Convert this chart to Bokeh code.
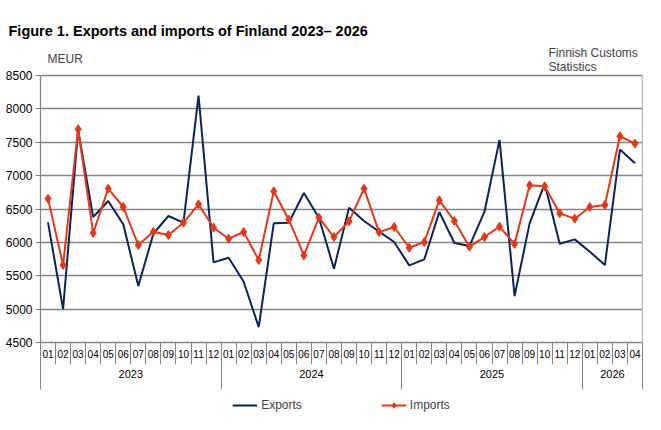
from bokeh.embed import file_html
from bokeh.layouts import column
from bokeh.models import (ColumnDataSource, FixedTicker, Label, Legend,
                          LegendItem, LinearAxis, Range1d)
from bokeh.plotting import figure
from bokeh.resources import INLINE

# Monthly foreign trade of Finland, million euros
years = ["2023"] * 12 + ["2024"] * 12 + ["2025"] * 12 + ["2026"] * 4
months = ["01", "02", "03", "04", "05", "06", "07", "08", "09", "10", "11", "12"] * 3 + ["01", "02", "03", "04"]

exports = [6300, 5000, 7680, 6380, 6620, 6270, 5345, 6130, 6395, 6295, 8200, 5700,
           5770, 5410, 4730, 6285, 6295, 6740, 6370, 5605, 6520, 6320, 6160, 6005,
           5655, 5745, 6455, 5990, 5945, 6460, 7535, 5195, 6285, 6880, 5980, 6045,
           5860, 5660, 7390, 7185]
imports = [6655, 5660, 7695, 6140, 6805, 6530, 5960, 6160, 6110, 6295, 6570, 6220,
           6055, 6155, 5735, 6765, 6340, 5805, 6370, 6080, 6315, 6805, 6150, 6230,
           5920, 6005, 6630, 6320, 5935, 6080, 6235, 5975, 6855, 6840, 6435, 6355,
           6530, 6560, 7590, 7480]

y_ticks = [4500, 5000, 5500, 6000, 6500, 7000, 7500, 8000, 8500]

FONT = "Liberation Sans"
GRID = "#858585"
EXP_COLOR = "#0d2257"
IMP_COLOR = "#e4381a"

# pixel layout of the chart
TOP = 44          # top of the drawing area (room for the unit and source notes)
VALUE_TOP = 75    # where the highest value tick sits
VALUE_H = 267     # height of the value area
BOTTOM_PAD = 50   # room for month and year labels
FOOT_H = 430 - (VALUE_TOP + VALUE_H + BOTTOM_PAD)

y_lo, y_hi = y_ticks[0], y_ticks[-1]
units_per_px = (y_hi - y_lo) / VALUE_H
y_top = y_hi + (VALUE_TOP - TOP) * units_per_px

n = len(months)
xs = list(range(n))
source = ColumnDataSource(dict(x=xs, exports=exports, imports=imports))

p = figure(width=661, height=430 - FOOT_H, output_backend="svg", toolbar_location=None,
           x_range=Range1d(-0.5, n - 0.5), y_range=Range1d(y_lo, y_top),
           x_axis_location=None,
           min_border_left=40, min_border_right=19, min_border_top=TOP,
           min_border_bottom=BOTTOM_PAD,
           outline_line_color=None,
           background_fill_color="white", border_fill_color="white")

p.title.text = "Figure 1. Exports and imports of Finland 2023\u2013 2026"
p.title.align = "left"
p.title.offset = -32
p.title.standoff = 12
p.title.text_font = FONT
p.title.text_font_size = "14.5px"
p.title.text_font_style = "bold"
p.title.text_color = "black"

# value axis and horizontal grid
p.yaxis.ticker = FixedTicker(ticks=y_ticks)
p.yaxis.bounds = (y_lo, y_hi)
p.yaxis.major_label_text_font = FONT
p.yaxis.major_label_text_font_size = "12px"
p.yaxis.major_label_text_color = "black"
p.yaxis.major_tick_out = 5
p.yaxis.major_tick_in = 0
p.yaxis.major_tick_line_color = GRID
p.yaxis.minor_tick_line_color = None
p.yaxis.axis_line_color = GRID
p.yaxis.axis_line_width = 1.3
p.yaxis.major_label_standoff = 3
p.xgrid.visible = False
p.ygrid.grid_line_color = GRID
p.ygrid.grid_line_width = 1.3

# right-hand border of the value area
p.segment(x0=[n - 0.5], y0=[y_lo], x1=[n - 0.5], y1=[y_hi],
          line_color=GRID, line_width=1.3)

# month labels sitting between the month separators
month_axis = LinearAxis(
    ticker=FixedTicker(ticks=xs, minor_ticks=[i - 0.5 for i in range(n + 1)]),
    major_label_overrides={i: m for i, m in zip(xs, months)},
    major_label_text_font=FONT, major_label_text_font_size="10px",
    major_label_text_color="black", major_label_standoff=-15,
    major_tick_line_color=None, minor_tick_in=0, minor_tick_out=22,
    minor_tick_line_color=GRID, axis_line_color=GRID, axis_line_width=1.3)
p.add_layout(month_axis, "below")

# year labels with the longer year separators
year_names = sorted(set(years))
year_start = [years.index(y) for y in year_names]
year_end = [len(years) - years[::-1].index(y) for y in year_names]
year_centers = [(s + e - 1) / 2 for s, e in zip(year_start, year_end)]
year_bounds = [s - 0.5 for s in year_start] + [year_end[-1] - 0.5]
year_axis = LinearAxis(
    ticker=FixedTicker(ticks=year_centers, minor_ticks=year_bounds),
    major_label_overrides={c: y for c, y in zip(year_centers, year_names)},
    major_label_text_font=FONT, major_label_text_font_size="11px",
    major_label_text_color="black", major_label_standoff=-20,
    major_tick_line_color=None, minor_tick_in=0, minor_tick_out=29,
    minor_tick_line_color=GRID, axis_line_color=None)
p.add_layout(year_axis, "below")

line_style = dict(line_width=2)
mark_style = dict(marker="diamond", size=9, fill_color=IMP_COLOR, line_color=IMP_COLOR, line_width=1)

p.line("x", "exports", source=source, line_color=EXP_COLOR, **line_style)
p.line("x", "imports", source=source, line_color=IMP_COLOR, **line_style)
p.scatter("x", "imports", source=source, **mark_style)

# unit and source notes (screen px from the bottom-left of the drawing area)
p.add_layout(Label(x=7, y=284, x_units="screen", y_units="screen", text="MEUR",
                   text_font=FONT, text_font_size="12px", text_baseline="middle"))
p.add_layout(Label(x=508, y=290, x_units="screen", y_units="screen", text="Finnish Customs",
                   text_font=FONT, text_font_size="12px", text_baseline="middle"))
p.add_layout(Label(x=508, y=276, x_units="screen", y_units="screen", text="Statistics",
                   text_font=FONT, text_font_size="12px", text_baseline="middle"))

# legend strip under the chart; its key renderers share the series data,
# which lies far outside this strip's 0..1 ranges, so only the legend shows
foot = figure(width=661, height=FOOT_H, output_backend="svg", toolbar_location=None,
              x_range=Range1d(0, 1), y_range=Range1d(0, 1),
              x_axis_location=None, y_axis_location=None,
              min_border_left=40, min_border_right=19, min_border_top=0, min_border_bottom=0,
              outline_line_color=None, border_fill_color="white")
foot.grid.visible = False
key_exp = foot.line("x", "exports", source=source, line_color=EXP_COLOR, **line_style)
key_imp = foot.line("x", "imports", source=source, line_color=IMP_COLOR, **line_style)
key_mark = foot.scatter("x", "imports", source=source, **mark_style)
legend = Legend(items=[LegendItem(label="Exports", renderers=[key_exp]),
                       LegendItem(label="Imports", renderers=[key_imp, key_mark])],
                orientation="horizontal", location="top",
                border_line_color=None, background_fill_alpha=0,
                label_text_font=FONT, label_text_font_size="12px",
                glyph_width=25, glyph_height=14, label_height=14, label_standoff=4,
                spacing=79, padding=4, margin=6)
foot.add_layout(legend, "center")

open("out.html", "w").write(file_html(column(p, foot, spacing=0), INLINE))
